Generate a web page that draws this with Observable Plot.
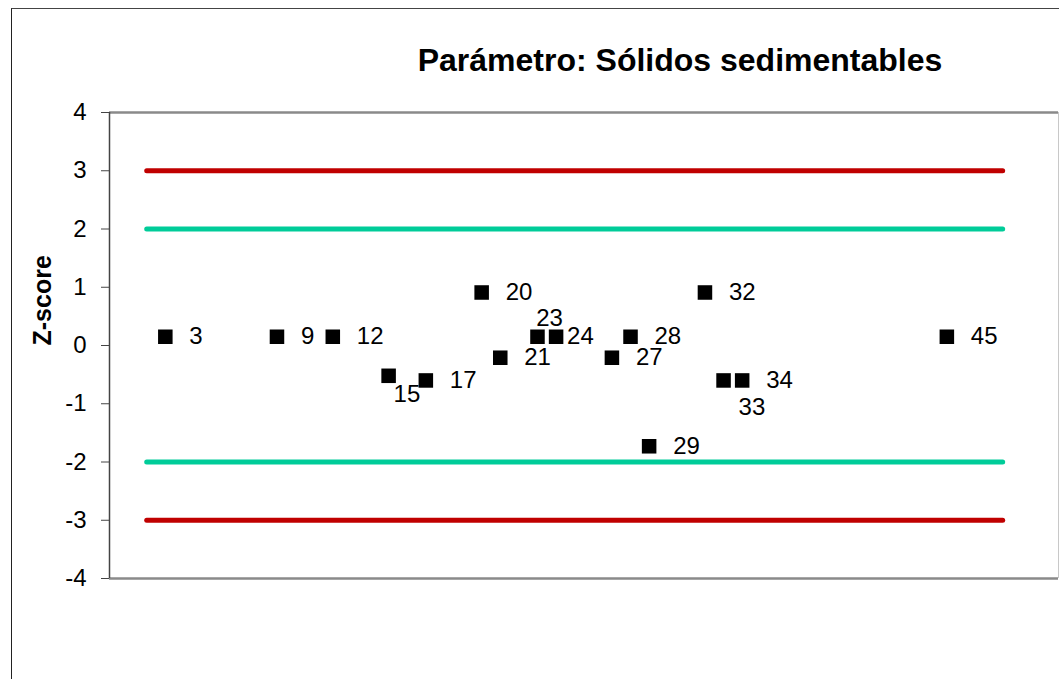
<!DOCTYPE html>
<html>
<head>
<meta charset="utf-8">
<script src="https://cdn.jsdelivr.net/npm/d3@7"></script>
<script src="https://cdn.jsdelivr.net/npm/@observablehq/plot@0.6"></script>
<style>
  html, body { margin: 0; padding: 0; background: #fff; }
  #wrap { position: relative; width: 1059px; height: 679px; overflow: hidden; }
  #frame { position: absolute; left: 11px; top: 8px; width: 1100px; height: 700px;
           border-left: 1px solid #222; border-top: 1px solid #444; box-sizing: border-box; }
  #chart { position: absolute; left: 0; top: 0; }
</style>
</head>
<body>
<div id="wrap"><div id="frame"></div><div id="chart"></div></div>
<script>
// Data
const title = "Parámetro: Sólidos sedimentables";
const yLabel = "Z-score";
const labIds  = [3, 9, 12, 15, 17, 20, 21, 23, 24, 27, 28, 29, 32, 33, 34, 45];
const zScores = [0.15, 0.15, 0.15, -0.52, -0.60, 0.91, -0.21, 0.15, 0.15, -0.21, 0.15, -1.73, 0.91, -0.60, -0.60, 0.15];
const yTicks = [-4, -3, -2, -1, 0, 1, 2, 3, 4];
const limitStart = 2, limitEnd = 48;
const warnLimits = [2, -2];
const actionLimits = [3, -3];
const xDomain = [0, 51];
const yDomain = [-4, 4];

const points = labIds.map((id, i) => ({id, z: zScores[i]}));
const limitRows = (vals) => vals.flatMap(v => [{x: limitStart, y: v}, {x: limitEnd, y: v}]);

// label placement (Excel-like manual label positions)
const special = {
  15: {dx: 5, dy: 19, textAnchor: "start"},
  23: {dx: 12, dy: -18, textAnchor: "middle"},
  24: {dx: 11, dy: 0, textAnchor: "start"},
  33: {dx: 15, dy: 27, textAnchor: "start"}
};

const font = "'Liberation Sans', Arial, sans-serif";
const labelFont = 24;

const marks = [
  // plot area border
  Plot.ruleY([yDomain[1]], {stroke: "#8a8a8a", strokeWidth: 2.5}),
  Plot.ruleY([yDomain[0]], {stroke: "#8a8a8a", strokeWidth: 2.5}),
  Plot.ruleX([xDomain[1]], {stroke: "#c8c8c8", strokeWidth: 1}),
  Plot.ruleX([xDomain[0]], {stroke: "#444", strokeWidth: 1.5}),
  Plot.axisY({ticks: yTicks, tickSize: 8, tickPadding: 15, fontSize: 24, stroke: "#444", label: null, tickFormat: d => String(d).replace("−", "-")}),
  // limit lines
  ...actionLimits.map(v => Plot.line(limitRows([v]), {x: "x", y: "y", stroke: "#C00000", strokeWidth: 5, strokeLinecap: "round"})),
  ...warnLimits.map(v => Plot.line(limitRows([v]), {x: "x", y: "y", stroke: "#00CC99", strokeWidth: 5, strokeLinecap: "round"})),
  // points
  Plot.dot(points, {x: "id", y: "z", symbol: "square", r: 8.2, fill: "#000", stroke: null}),
  Plot.text(points, {filter: d => !(d.id in special), x: "id", y: "z", text: d => String(d.id), dx: 24, textAnchor: "start", fontSize: labelFont, fill: "#000"}),
  ...Object.entries(special).map(([id, o]) =>
    Plot.text(points, {filter: d => d.id === +id, x: "id", y: "z", text: d => String(d.id), dx: o.dx, dy: o.dy, textAnchor: o.textAnchor, fontSize: labelFont, fill: "#000"})),
  // title and y label
  Plot.text([title], {frameAnchor: "top", lineAnchor: "middle", dx: 96, dy: -52, fontSize: 32, fontWeight: "bold", fill: "#000"}),
  Plot.text([yLabel], {frameAnchor: "left", lineAnchor: "middle", dx: -67, rotate: -90, fontSize: 25, fontWeight: "bold", fill: "#000"})
];

const chart = Plot.plot({
  width: 1059,
  height: 679,
  marginLeft: 109,
  marginRight: 1,
  marginTop: 112,
  marginBottom: 101,
  x: {domain: xDomain, axis: null},
  y: {domain: yDomain, axis: null},
  style: {fontFamily: font, background: "transparent", color: "#000", overflow: "visible"},
  marks
});
document.getElementById("chart").appendChild(chart);
</script>
</body>
</html>
